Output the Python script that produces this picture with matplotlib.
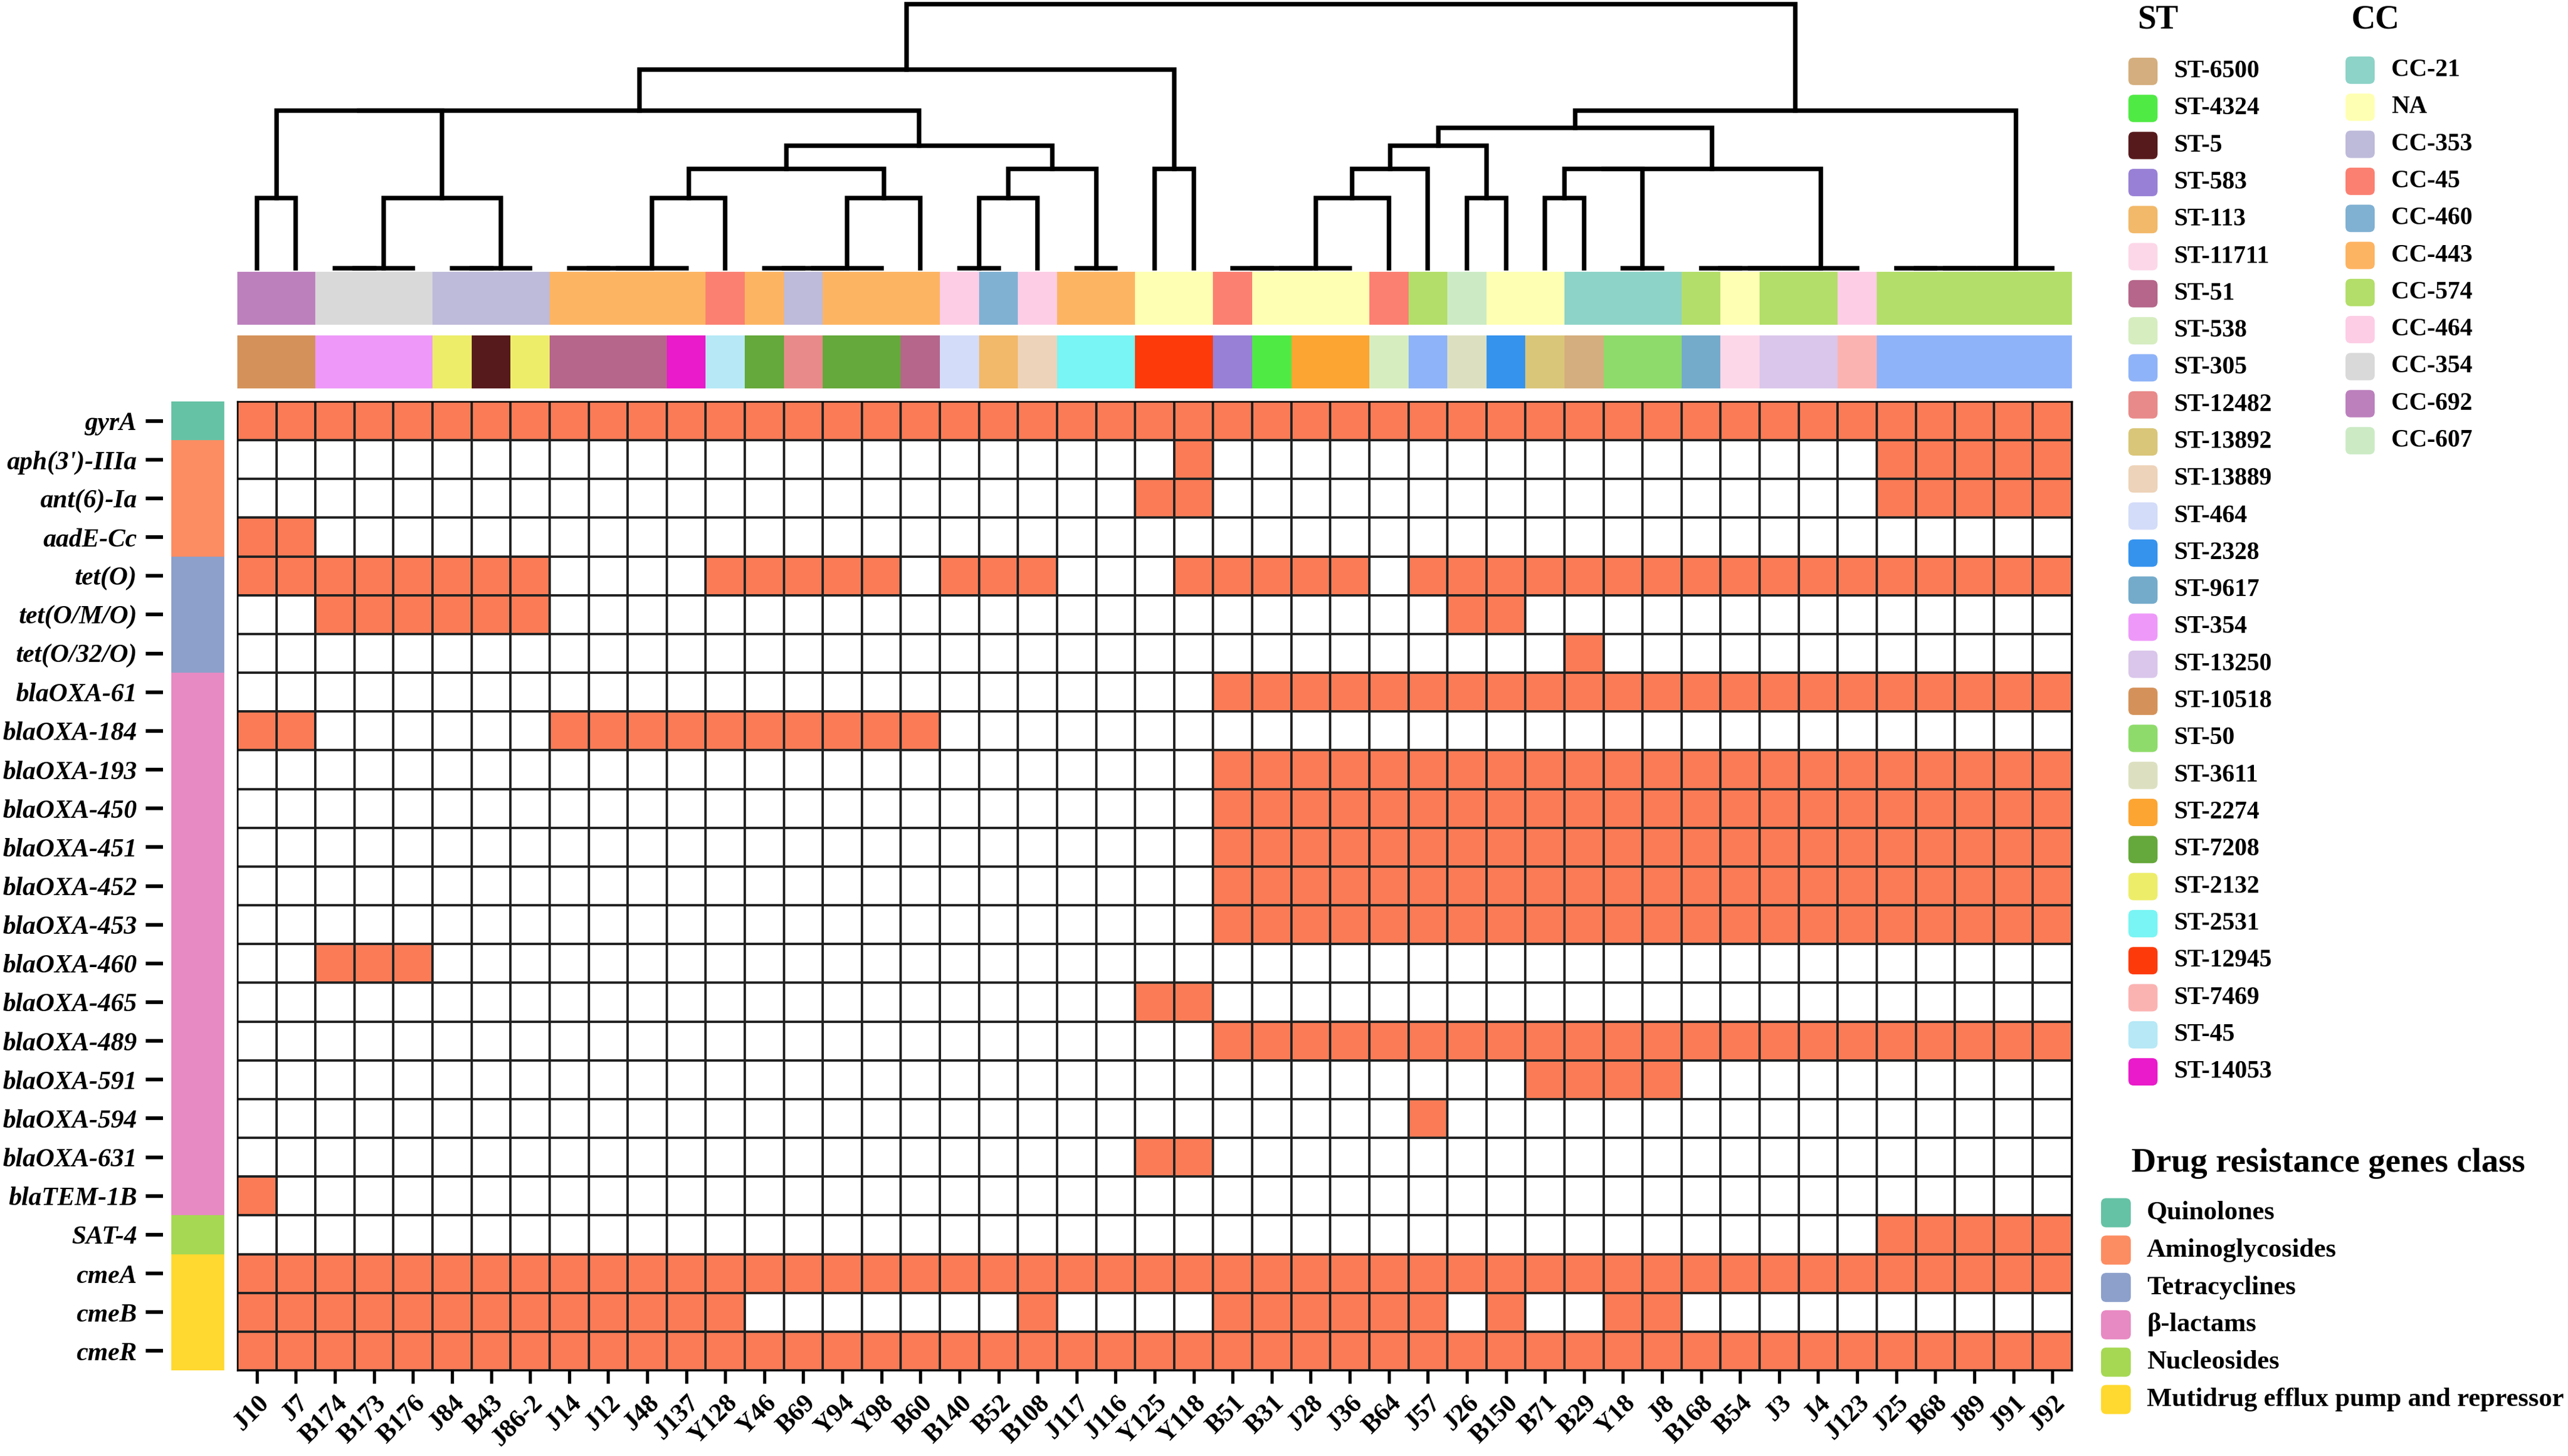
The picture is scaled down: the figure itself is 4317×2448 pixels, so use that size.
import numpy as np
import matplotlib
matplotlib.use("Agg")
import matplotlib.pyplot as plt
from matplotlib.colors import ListedColormap
from matplotlib.patches import FancyBboxPatch

plt.rcParams['font.family'] = ['Liberation Serif', 'DejaVu Serif']

W, H = 4317, 2448  # output size in pixels

isolates = ["J10", "J7", "B174", "B173", "B176", "J84", "B43", "J86-2", "J14", "J12",
            "J48", "J137", "Y128", "Y46", "B69", "Y94", "Y98", "B60", "B140", "B52",
            "B108", "J117", "J116", "Y125", "Y118", "B51", "B31", "J28", "J36", "B64",
            "J57", "J26", "B150", "B71", "B29", "Y18", "J8", "B168", "B54", "J3",
            "J4", "J123", "J25", "B68", "J89", "J91", "J92"]

genes = ["gyrA", "aph(3')-IIIa", "ant(6)-Ia", "aadE-Cc", "tet(O)", "tet(O/M/O)", "tet(O/32/O)",
         "blaOXA-61", "blaOXA-184", "blaOXA-193", "blaOXA-450", "blaOXA-451", "blaOXA-452",
         "blaOXA-453", "blaOXA-460", "blaOXA-465", "blaOXA-489", "blaOXA-591", "blaOXA-594",
         "blaOXA-631", "blaTEM-1B", "SAT-4", "cmeA", "cmeB", "cmeR"]

gene_class = ["Quinolones", "Aminoglycosides", "Aminoglycosides", "Aminoglycosides",
              "Tetracyclines", "Tetracyclines", "Tetracyclines"] + ["β-lactams"] * 14 + \
             ["Nucleosides"] + ["Mutidrug efflux pump and repressor"] * 3

# 1 = gene present, one digit per isolate (same order as isolates, groups of 10)
presence = [
    "1111111111 1111111111 1111111111 1111111111 1111111",  # gyrA
    "0000000000 0000000000 0000100000 0000000000 0011111",  # aph(3')-IIIa
    "0000000000 0000000000 0001100000 0000000000 0011111",  # ant(6)-Ia
    "1100000000 0000000000 0000000000 0000000000 0000000",  # aadE-Cc
    "1111111100 0011111011 1000111110 1111111111 1111111",  # tet(O)
    "0011111100 0000000000 0000000000 0110000000 0000000",  # tet(O/M/O)
    "0000000000 0000000000 0000000000 0000100000 0000000",  # tet(O/32/O)
    "0000000000 0000000000 0000011111 1111111111 1111111",  # blaOXA-61
    "1100000011 1111111100 0000000000 0000000000 0000000",  # blaOXA-184
    "0000000000 0000000000 0000011111 1111111111 1111111",  # blaOXA-193
    "0000000000 0000000000 0000011111 1111111111 1111111",  # blaOXA-450
    "0000000000 0000000000 0000011111 1111111111 1111111",  # blaOXA-451
    "0000000000 0000000000 0000011111 1111111111 1111111",  # blaOXA-452
    "0000000000 0000000000 0000011111 1111111111 1111111",  # blaOXA-453
    "0011100000 0000000000 0000000000 0000000000 0000000",  # blaOXA-460
    "0000000000 0000000000 0001100000 0000000000 0000000",  # blaOXA-465
    "0000000000 0000000000 0000011111 1111111111 1111111",  # blaOXA-489
    "0000000000 0000000000 0000000000 0001111000 0000000",  # blaOXA-591
    "0000000000 0000000000 0000000000 1000000000 0000000",  # blaOXA-594
    "0000000000 0000000000 0001100000 0000000000 0000000",  # blaOXA-631
    "1000000000 0000000000 0000000000 0000000000 0000000",  # blaTEM-1B
    "0000000000 0000000000 0000000000 0000000000 0011111",  # SAT-4
    "1111111111 1111111111 1111111111 1111111111 1111111",  # cmeA
    "1111111111 1110000000 1000011111 1010011000 0000000",  # cmeB
    "1111111111 1111111111 1111111111 1111111111 1111111",  # cmeR
]

isolate_cc = ["CC-692", "CC-692", "CC-354", "CC-354", "CC-354", "CC-353", "CC-353", "CC-353",
              "CC-443", "CC-443", "CC-443", "CC-443", "CC-45", "CC-443", "CC-353", "CC-443",
              "CC-443", "CC-443", "CC-464", "CC-460", "CC-464", "CC-443", "CC-443", "NA",
              "NA", "CC-45", "NA", "NA", "NA", "CC-45", "CC-574", "CC-607", "NA", "NA",
              "CC-21", "CC-21", "CC-21", "CC-574", "NA", "CC-574", "CC-574", "CC-464",
              "CC-574", "CC-574", "CC-574", "CC-574", "CC-574"]

isolate_st = ["ST-10518", "ST-10518", "ST-354", "ST-354", "ST-354", "ST-2132", "ST-5", "ST-2132",
              "ST-51", "ST-51", "ST-51", "ST-14053", "ST-45", "ST-7208", "ST-12482", "ST-7208",
              "ST-7208", "ST-51", "ST-464", "ST-113", "ST-13889", "ST-2531", "ST-2531",
              "ST-12945", "ST-12945", "ST-583", "ST-4324", "ST-2274", "ST-2274", "ST-538",
              "ST-305", "ST-3611", "ST-2328", "ST-13892", "ST-6500", "ST-50", "ST-50",
              "ST-9617", "ST-11711", "ST-13250", "ST-13250", "ST-7469",
              "ST-305", "ST-305", "ST-305", "ST-305", "ST-305"]

st_names = ["ST-6500", "ST-4324", "ST-5", "ST-583", "ST-113", "ST-11711", "ST-51", "ST-538",
            "ST-305", "ST-12482", "ST-13892", "ST-13889", "ST-464", "ST-2328", "ST-9617",
            "ST-354", "ST-13250", "ST-10518", "ST-50", "ST-3611", "ST-2274", "ST-7208",
            "ST-2132", "ST-2531", "ST-12945", "ST-7469", "ST-45", "ST-14053"]
st_colors = ["#D4AE7E", "#50EA45", "#561A1C", "#9880D6", "#F2B96A", "#FCD7E8", "#B5668A", "#D6EDC0",
             "#8FB3F8", "#E88A8A", "#D9C679", "#EDD3B9", "#D3DCF8", "#3593EE", "#74ABCB",
             "#EE99F9", "#DAC6EA", "#D4925A", "#8EDB6B", "#DDE0C0", "#FCA532", "#65A83B",
             "#EDED6A", "#78F5F4", "#FD3A0A", "#FBB3B2", "#B6E8F6", "#E91BCA"]

cc_names = ["CC-21", "NA", "CC-353", "CC-45", "CC-460", "CC-443", "CC-574", "CC-464",
            "CC-354", "CC-692", "CC-607"]
cc_colors = ["#8DD3C7", "#FFFFB3", "#BEBADA", "#FB8072", "#80B1D3", "#FDB462", "#B3DE69",
             "#FCCDE5", "#D9D9D9", "#BC80BD", "#CCEBC5"]

class_names = ["Quinolones", "Aminoglycosides", "Tetracyclines", "β-lactams", "Nucleosides",
               "Mutidrug efflux pump and repressor"]
class_colors = ["#66C2A5", "#FC8D62", "#8DA0CB", "#E78AC3", "#A6D854", "#FFD92F"]


def chain(a, b):
    # isolates a..b with identical profiles, joined at height 0
    node = a
    for i in range(a + 1, b + 1):
        node = (node, i, 0.0)
    return node


# dendrogram: (left, right, height); leaves are isolate positions
left_part = (((0, 1, 2.65), (chain(2, 4), chain(5, 7), 2.65), 5.95),
             ((((chain(8, 11), 12, 2.65), (chain(13, 16), 17, 2.65), 3.75),
               ((chain(18, 19), 20, 2.65), chain(21, 22), 3.75), 4.62)), 5.95)
left_part = (left_part, (23, 24, 3.75), 7.50)
right_part = (((((chain(25, 28), 29, 2.65), 30, 3.75), (31, 32, 2.65), 4.62),
               (((33, 34, 2.65), chain(35, 36), 3.75), chain(37, 41), 3.75), 5.30),
              chain(42, 46), 5.95)
tree = (left_part, right_part, 9.95)

mat = np.array([[int(c) for c in row.replace(" ", "")] for row in presence])
n_rows, n_cols = mat.shape

fig = plt.figure(figsize=(W / 300, H / 300), dpi=300)


def px_axes(x0, y0, x1, y1):
    return fig.add_axes([x0 / W, 1 - y1 / H, (x1 - x0) / W, (y1 - y0) / H])


hx0, hx1 = 399, 3483

# dendrogram
ax_d = px_axes(hx0, 3, hx1, 451)


def draw(node):
    if isinstance(node, int):
        return node + 0.5, 0.0
    left, right, h = node
    xl, hl = draw(left)
    xr, hr = draw(right)
    ax_d.plot([xl, xl, xr, xr], [hl, h, h, hr], color="black", lw=1.8,
              solid_joinstyle="miter", clip_on=False)
    return (xl + xr) / 2, h


draw(tree)
ax_d.set_xlim(0, n_cols)
ax_d.set_ylim(0, 10.05)
ax_d.axis("off")

# CC and ST annotation bars
ax_cc = px_axes(hx0, 457, hx1, 546)
ax_cc.pcolormesh([[cc_names.index(c) for c in isolate_cc]], cmap=ListedColormap(cc_colors),
                 vmin=-0.5, vmax=len(cc_names) - 0.5)
ax_cc.axis("off")

ax_st = px_axes(hx0, 564, hx1, 653)
ax_st.pcolormesh([[st_names.index(s) for s in isolate_st]], cmap=ListedColormap(st_colors),
                 vmin=-0.5, vmax=len(st_names) - 0.5)
ax_st.axis("off")

# heatmap
ax_h = px_axes(hx0, 675, hx1, 2304)
ax_h.pcolormesh(mat, cmap=ListedColormap(["white", "#FB7B56"]), vmin=0, vmax=1,
                edgecolors="#222222", linewidth=0.5)
ax_h.set_xlim(0, n_cols)
ax_h.set_ylim(n_rows, 0)
ax_h.set_yticks([])
ax_h.set_xticks(np.arange(n_cols) + 0.5)
ax_h.set_xticklabels(isolates, rotation=45, ha="right", va="top", rotation_mode="anchor",
                     fontsize=10.5, fontweight="bold")
ax_h.tick_params(axis="x", length=5.3, width=1.3, pad=3)
for s in ax_h.spines.values():
    s.set_linewidth(0.6)

# gene class bar with gene names
ax_c = px_axes(288, 675, 377, 2304)
ax_c.spines["left"].set_position(("outward", 3.4))  # small gap between ticks and bar
for s in ax_c.spines.values():
    s.set_visible(False)
ax_c.pcolormesh(np.array([[class_names.index(c)] for c in gene_class]),
                cmap=ListedColormap(class_colors), vmin=-0.5, vmax=len(class_names) - 0.5)
ax_c.set_ylim(n_rows, 0)
ax_c.set_xticks([])
ax_c.set_yticks(np.arange(n_rows) + 0.5)
ax_c.set_yticklabels(genes, fontsize=10.5, fontweight="bold", fontstyle="italic")
ax_c.tick_params(axis="y", length=7, width=1.5, pad=3.4)

# legends, drawn in pixel coordinates
ax_l = fig.add_axes([0, 0, 1, 1])
ax_l.set_xlim(0, W)
ax_l.set_ylim(H, 0)
ax_l.axis("off")


def swatch(x, y, color, w=49, h=46):
    ax_l.add_patch(FancyBboxPatch((x, y - h / 2), w, h, boxstyle="round,pad=0,rounding_size=9",
                                  fc=color, ec="none"))


ax_l.text(3593, 33, "ST", fontsize=13.5, fontweight="bold", va="center")
for i, (name, col) in enumerate(zip(st_names, st_colors)):
    y = 120 + 62.3 * i
    swatch(3578, y, col)
    ax_l.text(3655, y, name, fontsize=10, fontweight="bold", va="center")

ax_l.text(3952, 33, "CC", fontsize=13.5, fontweight="bold", va="center")
for i, (name, col) in enumerate(zip(cc_names, cc_colors)):
    y = 118 + 62.3 * i
    swatch(3943, y, col)
    ax_l.text(4020, y, name, fontsize=10, fontweight="bold", va="center")

ax_l.text(3583, 1956, "Drug resistance genes class", fontsize=13.8, fontweight="bold", va="center")
for i, (name, col) in enumerate(zip(class_names, class_colors)):
    y = 2039 + 62.8 * i
    swatch(3532, y, col, w=50, h=49)
    ax_l.text(3609, y, name, fontsize=10.7, fontweight="bold", va="center")

fig.savefig("out.png", dpi=300)
